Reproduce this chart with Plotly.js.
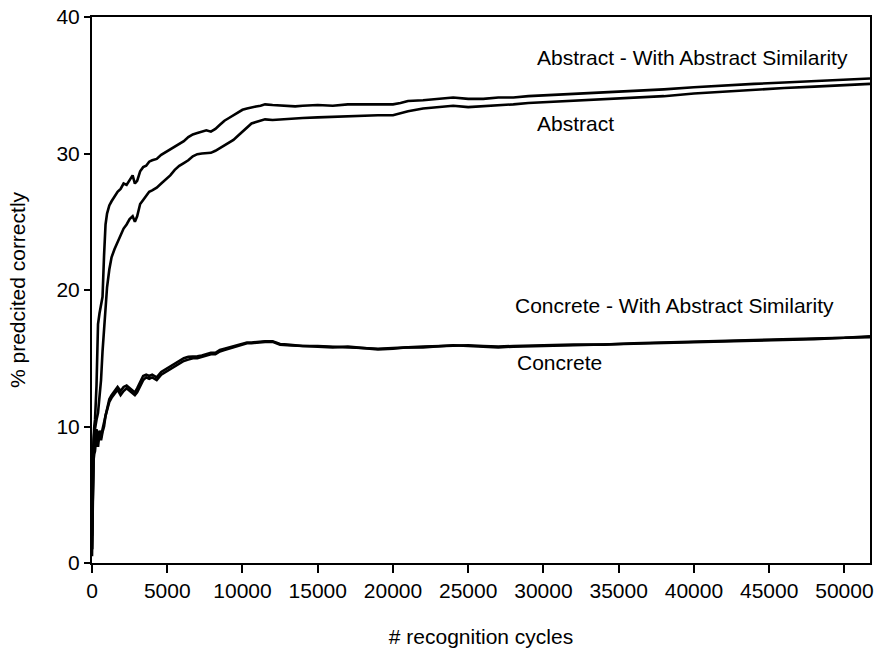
<!DOCTYPE html>
<html>
<head>
<meta charset="utf-8">
<script src="https://cdn.plot.ly/plotly-3.0.1.min.js"></script>
<style>html,body{margin:0;padding:0;background:#fff;}#chart{width:878px;height:650px;}</style>
</head>
<body>
<div id="chart"></div>
<script>
// recognition cycles (shared x values)
const cycles = [0, 30, 60, 100, 150, 200, 300, 400, 500, 600,
  700, 800, 900, 1000, 1150, 1300, 1500, 1700, 1900, 2100,
  2300, 2500, 2700, 2850, 3000, 3200, 3400, 3600, 3800, 4000,
  4300, 4600, 4900, 5200, 5500, 5800, 6100, 6400, 6700, 7000,
  7300, 7600, 7900, 8200, 8500, 8800, 9100, 9400, 9700, 10000,
  10300, 10600, 10900, 11200, 11500, 12000, 12500, 13000, 13500, 14000,
  15000, 16000, 17000, 18000, 19000, 20000, 20500, 21000, 22000, 23000,
  24000, 25000, 26000, 27000, 28000, 29000, 30000, 32000, 34000, 36000,
  38000, 40000, 42000, 44000, 46000, 48000, 50000, 51700];

const abstractWithSim = [2, 5, 7.5, 9, 10, 10.5, 13, 17.5, 18.3, 18.8,
  19.5, 22.5, 24.8, 25.6, 26.2, 26.5, 26.9, 27.2, 27.4, 27.8,
  27.7, 28.1, 28.4, 27.8, 28.0, 28.7, 29.0, 29.1, 29.4, 29.5,
  29.6, 29.9, 30.1, 30.3, 30.5, 30.7, 30.9, 31.2, 31.4, 31.5,
  31.6, 31.7, 31.6, 31.8, 32.1, 32.4, 32.6, 32.8, 33.0, 33.2,
  33.3, 33.4, 33.45, 33.5, 33.6, 33.55, 33.5, 33.5, 33.45, 33.5,
  33.55, 33.5, 33.6, 33.6, 33.6, 33.6, 33.7, 33.85, 33.9, 34.0,
  34.1, 34.0, 34.0, 34.1, 34.1, 34.2, 34.25, 34.35, 34.45, 34.55,
  34.7, 34.85, 35.0, 35.1, 35.2, 35.3, 35.4, 35.5];

const abstractOnly = [1, 4, 6.5, 8.5, 9.5, 10, 10.5, 11, 12, 13.4,
  15.5, 17, 18.8, 20.2, 21.5, 22.4, 23.0, 23.5, 24.0, 24.5,
  24.8, 25.2, 25.4, 25.0, 25.4, 26.3, 26.6, 26.9, 27.2, 27.3,
  27.5, 27.8, 28.1, 28.4, 28.8, 29.1, 29.3, 29.5, 29.8, 29.95,
  30.0, 30.0, 30.05, 30.2, 30.4, 30.6, 30.8, 31.0, 31.3, 31.6,
  31.9, 32.2, 32.3, 32.4, 32.5, 32.45, 32.5, 32.5, 32.6, 32.6,
  32.65, 32.7, 32.75, 32.8, 32.8, 32.8, 32.95, 33.1, 33.3, 33.4,
  33.5, 33.4, 33.45, 33.5, 33.6, 33.7, 33.75, 33.9, 34.0, 34.1,
  34.2, 34.4, 34.55, 34.7, 34.8, 34.9, 35.0, 35.1];

const concreteWithSim = [1, 5, 7, 8.5, 9, 8.6, 9.8, 8.9, 9.7, 9.2,
  9.8, 10.3, 11.0, 11.5, 12.0, 12.3, 12.6, 12.9, 12.6, 12.9,
  13.0, 12.8, 12.6, 12.5, 12.8, 13.3, 13.7, 13.8, 13.7, 13.8,
  13.6, 14.0, 14.2, 14.4, 14.6, 14.8, 15.0, 15.1, 15.1, 15.15,
  15.2, 15.3, 15.4, 15.4, 15.6, 15.7, 15.8, 15.9, 16.0, 16.1,
  16.15, 16.15, 16.2, 16.2, 16.25, 16.25, 16.05, 16.0, 15.95, 15.9,
  15.9, 15.85, 15.85, 15.8, 15.7, 15.75, 15.8, 15.8, 15.85, 15.9,
  15.95, 15.95, 15.9, 15.85, 15.9, 15.9, 15.95, 16.0, 16.0, 16.1,
  16.15, 16.2, 16.25, 16.3, 16.4, 16.45, 16.5, 16.6];

const concreteOnly = [0.5, 3, 6, 7.5, 8, 8.2, 9.5, 8.5, 9.6, 9.0,
  9.6, 10.0, 10.8, 11.3, 11.8, 12.1, 12.4, 12.7, 12.3, 12.6,
  12.8, 12.6, 12.4, 12.3, 12.5, 13.0, 13.4, 13.6, 13.5, 13.6,
  13.4, 13.8, 14.0, 14.2, 14.4, 14.6, 14.8, 14.9, 15.0, 15.0,
  15.1, 15.2, 15.3, 15.3, 15.5, 15.6, 15.7, 15.85, 15.95, 16.05,
  16.1, 16.1, 16.15, 16.15, 16.2, 16.2, 16.0, 15.95, 15.9, 15.9,
  15.85, 15.8, 15.85, 15.75, 15.65, 15.7, 15.75, 15.8, 15.8, 15.85,
  15.95, 15.9, 15.85, 15.8, 15.85, 15.85, 15.9, 15.95, 16.0, 16.05,
  16.1, 16.15, 16.2, 16.3, 16.35, 16.4, 16.5, 16.55];

const seriesNames = ["Abstract - With Abstract Similarity", "Abstract",
  "Concrete - With Abstract Similarity", "Concrete"];
const xTickVals = [0, 5000, 10000, 15000, 20000, 25000, 30000, 35000, 40000, 45000, 50000];
const yTickVals = [0, 10, 20, 30, 40];
const xTitle = "# recognition cycles";
const yTitle = "% predcited correctly";

// label anchor positions in data units
const labelX = [29435, 29435, 27973, 28106];
const labelY = [37.04, 32.19, 18.86, 14.69];

const ys = [abstractWithSim, abstractOnly, concreteWithSim, concreteOnly];
const FONT = "Liberation Sans, Arial, Helvetica, sans-serif";
const FS = 21;

const traces = ys.map((y, i) => ({
  x: cycles, y: y, type: "scatter", mode: "lines", name: seriesNames[i],
  line: {color: "#000000", width: 2.6}, showlegend: false, hoverinfo: "skip"
}));

const annotations = seriesNames.map((t, i) => ({
  x: labelX[i], y: labelY[i], xref: "x", yref: "y", text: t,
  showarrow: false, xanchor: "left", yanchor: "middle",
  font: {family: FONT, size: FS, color: "#000"}
}));

const layout = {
  width: 878, height: 650,
  margin: {l: 92, r: 8, t: 17, b: 87, pad: 0},
  paper_bgcolor: "#fff", plot_bgcolor: "#fff",
  font: {family: FONT, size: FS, color: "#000"},
  showlegend: false,
  xaxis: {
    range: [0, 51700], tickvals: xTickVals, ticktext: xTickVals.map(String),
    ticks: "outside", ticklen: 8, tickwidth: 2, tickcolor: "#000",
    showline: true, linewidth: 2, linecolor: "#000", mirror: true,
    showgrid: false, zeroline: false,
    tickfont: {family: FONT, size: FS, color: "#000"},
    title: {text: xTitle, font: {family: FONT, size: FS, color: "#000"}, standoff: 28}
  },
  yaxis: {
    range: [0, 40], tickvals: yTickVals, ticktext: yTickVals.map(String),
    ticks: "outside", ticklen: 6, tickwidth: 2, tickcolor: "#000",
    showline: true, linewidth: 2, linecolor: "#000", mirror: true,
    showgrid: false, zeroline: false,
    tickfont: {family: FONT, size: FS, color: "#000"},
    title: {text: yTitle, font: {family: FONT, size: FS, color: "#000"}, standoff: 25}
  },
  annotations: annotations
};

Plotly.newPlot("chart", traces, layout, {staticPlot: true, displayModeBar: false});
</script>
</body>
</html>
